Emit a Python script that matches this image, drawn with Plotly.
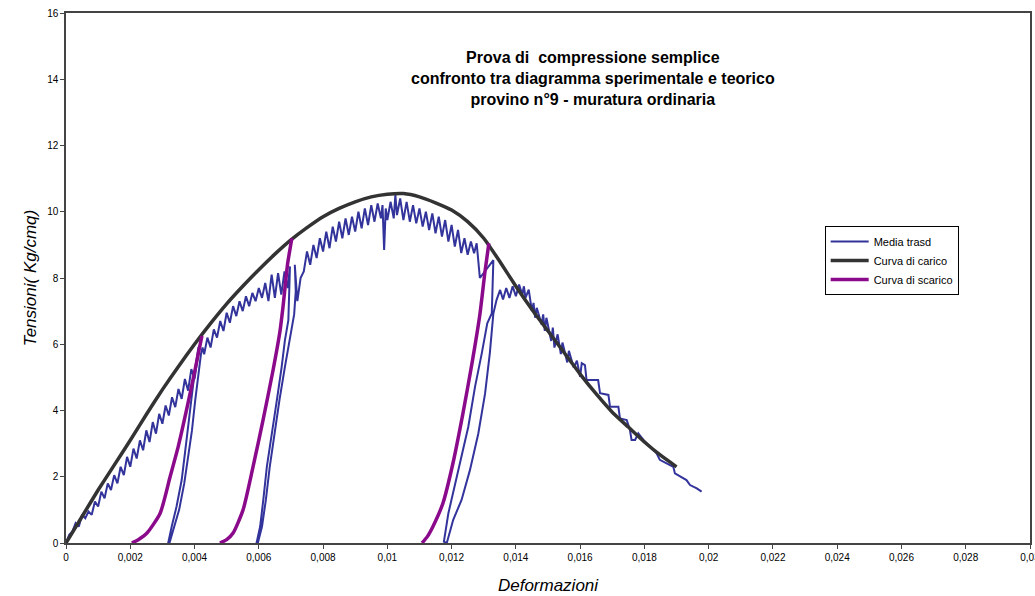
import plotly.graph_objects as go

# ---------------- data ----------------
# Curva di carico (theoretical loading curve)
carico_x = [0, 0.0005, 0.001, 0.0015, 0.002, 0.0025, 0.003, 0.0035, 0.004, 0.0045, 0.005, 0.0055,
            0.006, 0.0065, 0.007, 0.0075, 0.008, 0.0085, 0.009, 0.0095, 0.010, 0.0105, 0.011,
            0.0115, 0.012, 0.0125, 0.013, 0.0135, 0.014, 0.0145, 0.015, 0.0155, 0.016, 0.0165,
            0.017, 0.0175, 0.018, 0.0185, 0.019]
carico_y = [0, 0.8, 1.6, 2.35, 3.1, 3.88, 4.63, 5.33, 6.0, 6.63, 7.22, 7.75,
            8.25, 8.72, 9.15, 9.52, 9.85, 10.1, 10.3, 10.45, 10.53, 10.55, 10.45,
            10.27, 10.05, 9.7, 9.2, 8.5, 7.75, 7.05, 6.4, 5.75, 5.1, 4.5,
            3.95, 3.5, 3.05, 2.65, 2.3]

# Curve di scarico (theoretical unloading curves)
scarico1_x = [0.00205, 0.00225, 0.00252, 0.00293, 0.00324, 0.00349, 0.00377, 0.00401, 0.00423]
scarico1_y = [0.0, 0.1, 0.3, 0.9, 2.0, 2.9, 4.1, 5.2, 6.25]
scarico2_x = [0.00479, 0.0050, 0.0052, 0.00551, 0.00582, 0.00613, 0.00644, 0.00666, 0.00675, 0.0069, 0.00703]
scarico2_y = [0.0, 0.1, 0.3, 1.0, 2.3, 3.7, 5.2, 6.4, 7.1, 8.45, 9.2]
scarico3_x = [0.01108, 0.01125, 0.01142, 0.01173, 0.01204, 0.01235, 0.01263, 0.01288, 0.01304, 0.01316]
scarico3_y = [0.0, 0.2, 0.5, 1.2, 2.4, 3.9, 5.4, 6.9, 8.2, 9.05]

# Media trasd (measured curve), split into read-off segments
loadA_x = [0, 0.0001, 0.0002, 0.0003, 0.0004, 0.0005, 0.0006, 0.0007, 0.0008, 0.0009, 0.001,
           0.0011, 0.0012, 0.0013, 0.0014, 0.0015, 0.0016, 0.0017, 0.0018, 0.0019, 0.002,
           0.0021, 0.0022, 0.0023, 0.0024, 0.0025, 0.0026, 0.0027, 0.0028, 0.0029, 0.003,
           0.0031, 0.0032, 0.0033, 0.0034, 0.0035, 0.0036, 0.0037, 0.0038, 0.0039, 0.004,
           0.0041, 0.00415]
loadA_y = [0, 0.25, 0.35, 0.6, 0.5, 0.85, 0.75, 0.95, 0.85, 1.25, 1.1,
           1.55, 1.35, 1.8, 1.6, 2.05, 1.8, 2.3, 2.05, 2.6, 2.3,
           2.85, 2.55, 3.1, 2.8, 3.4, 3.05, 3.65, 3.3, 3.9, 3.6,
           4.15, 3.85, 4.4, 4.1, 4.65, 4.35, 4.95, 4.6, 5.25, 4.95,
           5.6, 5.95]
unload1_x = [0.00412, 0.00401, 0.00391, 0.00381, 0.0037, 0.0036, 0.00344, 0.00329, 0.00318]
unload1_y = [5.9, 5.2, 4.4, 3.5, 2.7, 1.9, 1.1, 0.5, 0.0]
reload1_x = [0.00322, 0.00335, 0.00352, 0.00368, 0.00381, 0.00392, 0.00402, 0.00411, 0.0042, 0.00425]
reload1_y = [0.0, 0.45, 1.0, 1.8, 2.6, 3.4, 4.3, 5.1, 5.7, 5.9]
loadB_x = [0.0043, 0.0044, 0.0045, 0.0046, 0.0047, 0.0048, 0.0049, 0.005, 0.0051, 0.0052,
           0.0053, 0.0054, 0.0055, 0.0056, 0.0057, 0.0058, 0.0059, 0.006, 0.0061, 0.0062,
           0.0063, 0.0064, 0.0065, 0.0066, 0.0067, 0.0068, 0.0069, 0.00697]
loadB_y = [5.7, 6.2, 5.9, 6.45, 6.2, 6.7, 6.4, 6.95, 6.65, 7.15,
           6.85, 7.3, 7.0, 7.45, 7.15, 7.55, 7.3, 7.7, 7.4, 7.85,
           7.3, 8.1, 7.4, 8.15, 7.5, 8.2, 7.7, 8.35]
unload2_x = [0.00694, 0.00692, 0.00681, 0.00671, 0.00656, 0.0064, 0.00625, 0.00614, 0.00604, 0.00593]
unload2_y = [7.6, 6.73, 6.1, 5.3, 4.3, 3.3, 2.3, 1.3, 0.49, 0.0]
reload2_x = [0.00597, 0.0061, 0.00622, 0.00634, 0.00648, 0.00664, 0.00681, 0.00696, 0.0071, 0.00715, 0.00712]
reload2_y = [0.0, 0.5, 1.3, 2.3, 3.3, 4.3, 5.3, 6.2, 6.9, 7.6, 8.4]
loadC_x = [0.0072, 0.0073, 0.0074, 0.0075, 0.0076, 0.0077, 0.0078, 0.0079, 0.008, 0.0081,
           0.0082, 0.0083, 0.0084, 0.0085, 0.0086, 0.0087, 0.0088, 0.0089, 0.009, 0.0091,
           0.0092, 0.0093, 0.0094, 0.0095, 0.0096, 0.0097, 0.0098, 0.00985, 0.0099, 0.00995,
           0.0100, 0.0101, 0.0102, 0.01025, 0.0103, 0.0104, 0.0105, 0.0106, 0.0107, 0.0108,
           0.0109, 0.011, 0.0111, 0.0112, 0.0113, 0.0114, 0.0115, 0.0116, 0.0117, 0.0118,
           0.0119, 0.012, 0.0121, 0.0122, 0.0123, 0.0124, 0.0125, 0.0126, 0.0127, 0.01278,
           0.01288, 0.0131, 0.01325]
loadC_y = [7.3, 8.0, 8.2, 8.8, 8.4, 9.0, 8.6, 9.2, 8.8, 9.4,
           8.9, 9.55, 9.1, 9.7, 9.2, 9.8, 9.3, 9.85, 9.4, 10.0,
           9.5, 10.1, 9.6, 10.2, 9.7, 10.25, 9.8, 10.2, 8.85, 10.1,
           9.75, 10.3, 9.8, 10.5, 9.9, 10.4, 9.75, 10.3, 9.7, 10.2,
           9.65, 10.1, 9.55, 10.0, 9.45, 9.95, 9.35, 9.85, 9.25, 9.75,
           9.1, 9.6, 8.95, 9.45, 8.75, 9.2, 8.7, 9.1, 8.75, 9.05,
           8.0, 8.3, 8.5]
unload3_x = [0.0133, 0.01325, 0.01311, 0.01294, 0.01273, 0.01252, 0.01231, 0.0121, 0.0119, 0.01176]
unload3_y = [8.54, 6.93, 6.63, 5.73, 4.72, 3.51, 2.6, 1.7, 0.9, 0.04]
reload3_x = [0.01185, 0.01205, 0.01231, 0.01257, 0.01283, 0.01304, 0.01319, 0.0133, 0.0134, 0.01351]
reload3_y = [0.0, 0.7, 1.3, 2.2, 3.3, 4.5, 5.73, 6.93, 7.34, 7.64]
loadD_x = [0.0136, 0.0137, 0.0138, 0.0139, 0.014, 0.0141, 0.0142, 0.01425, 0.0143, 0.0144,
           0.0145, 0.01455, 0.0146, 0.01465, 0.0148, 0.01485, 0.0149, 0.01495, 0.0151, 0.01515,
           0.0152, 0.0153, 0.0154, 0.01545, 0.0156, 0.01565, 0.0158, 0.0159, 0.016, 0.01605,
           0.01615, 0.0162, 0.01656, 0.01662, 0.01688, 0.01693, 0.01719, 0.01724, 0.01745, 0.01755,
           0.0176, 0.01771, 0.01781, 0.01797, 0.01817, 0.01838, 0.01848, 0.01869, 0.0189, 0.01895,
           0.01911, 0.01931, 0.01942, 0.01963, 0.01978]
loadD_y = [7.35, 7.7, 7.4, 7.75, 7.45, 7.8, 7.5, 7.75, 7.4, 7.65,
           7.0, 7.25, 6.8, 7.1, 6.6, 6.9, 6.4, 6.8, 6.1, 6.5,
           5.9, 6.3, 5.7, 6.05, 5.45, 5.8, 5.3, 5.5, 5.02, 5.43,
           5.37, 4.92, 4.92, 4.52, 4.47, 4.11, 4.11, 3.76, 3.71, 3.41,
           3.11, 3.11, 3.31, 3.11, 2.91, 2.71, 2.51, 2.41, 2.3, 2.1,
           2.0, 1.9, 1.75, 1.65, 1.55]

x_ticks = [0, 0.002, 0.004, 0.006, 0.008, 0.01, 0.012, 0.014, 0.016, 0.018,
           0.02, 0.022, 0.024, 0.026, 0.028, 0.03]
x_ticklabels = ["0", "0,002", "0,004", "0,006", "0,008", "0,01", "0,012", "0,014", "0,016", "0,018",
                "0,02", "0,022", "0,024", "0,026", "0,028", "0,03"]
y_ticks = [0, 2, 4, 6, 8, 10, 12, 14, 16]

# ---------------- figure ----------------
media_x = loadA_x + unload1_x + reload1_x + loadB_x + unload2_x + reload2_x + loadC_x + unload3_x + reload3_x + loadD_x
media_y = loadA_y + unload1_y + reload1_y + loadB_y + unload2_y + reload2_y + loadC_y + unload3_y + reload3_y + loadD_y

BLUE = "#33339c"
BLACK = "#333333"
PURPLE = "#8b0a8b"
FONT = "Liberation Sans, Arial, sans-serif"

fig = go.Figure()
fig.add_trace(go.Scatter(x=media_x, y=media_y, mode="lines", name="Media trasd",
                         line=dict(color=BLUE, width=2)))
fig.add_trace(go.Scatter(x=carico_x, y=carico_y, mode="lines", name="Curva di carico",
                         line=dict(color=BLACK, width=3.5, shape="spline", smoothing=0.5)))
for i, (sx, sy) in enumerate([(scarico1_x, scarico1_y), (scarico2_x, scarico2_y), (scarico3_x, scarico3_y)]):
    fig.add_trace(go.Scatter(x=sx, y=sy, mode="lines", name="Curva di scarico",
                             legendgroup="scarico", showlegend=(i == 0),
                             line=dict(color=PURPLE, width=3.5, shape="spline", smoothing=0.6)))

fig.update_layout(
    width=1035, height=596,
    margin=dict(l=66, r=5, t=13, b=53),
    paper_bgcolor="white", plot_bgcolor="white",
    font=dict(family=FONT, size=10, color="black"),
    showlegend=True,
    legend=dict(x=0.787, y=0.598, xanchor="left", yanchor="top",
                bordercolor="black", borderwidth=1, bgcolor="white",
                font=dict(size=11, family=FONT),
                tracegroupgap=0, itemwidth=38),
    annotations=[dict(
        text="<b>Prova di  compressione semplice<br>confronto tra diagramma sperimentale e teorico<br>provino n°9 - muratura ordinaria</b>",
        x=0.5467, y=0.936, xref="paper", yref="paper", xanchor="center", yanchor="top",
        showarrow=False, align="center",
        font=dict(size=16, family=FONT, color="black"))],
)
fig.update_xaxes(range=[0, 0.03], tickvals=x_ticks, ticktext=x_ticklabels, automargin=False,
                 ticklabeloverflow="allow",
                 showgrid=False, zeroline=False, showline=True, linecolor="#444444", linewidth=1.5,
                 mirror=True, ticks="outside", ticklen=4, tickcolor="#444444",
                 tickfont=dict(size=10),
                 title=dict(text="<i>Deformazioni</i>", font=dict(size=17), standoff=17))
fig.update_yaxes(range=[0, 16], tickvals=y_ticks, automargin=False,
                 ticklabeloverflow="allow",
                 showgrid=False, zeroline=False, showline=True, linecolor="#444444", linewidth=1.5,
                 mirror=True, ticks="outside", ticklen=4, tickcolor="#444444",
                 tickfont=dict(size=10),
                 title=dict(text="<i>Tensioni( Kg/cmq)</i>", font=dict(size=17), standoff=6))

# remove the default page margin so the 1035x596 figure fills the window exactly
fig.write_html("out.html",
               config={"displayModeBar": False},
               post_script="document.body.style.margin='0';"
                           "document.documentElement.style.overflow='hidden';")
